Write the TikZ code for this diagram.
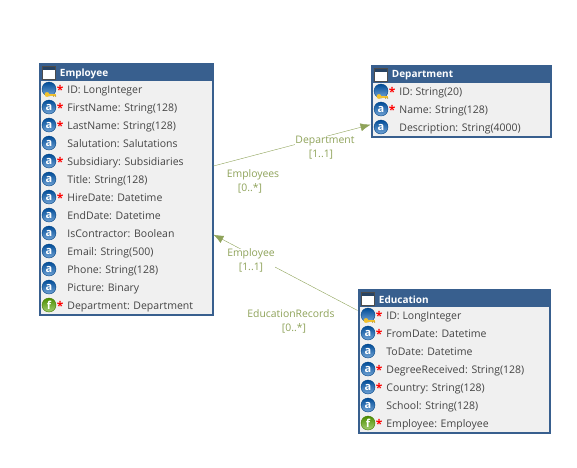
\documentclass[tikz,border=0pt]{standalone}
\usepackage{fontspec}
\setmainfont{Open Sans}
\usepackage{tikz}
\usetikzlibrary{positioning,arrows.meta}
\definecolor{tablecolor}{HTML}{385F8E}
\definecolor{rowcolor}{HTML}{F0F0F0}
\definecolor{textcolor}{HTML}{444444}
\definecolor{linkcolor}{HTML}{8FA35A}
\definecolor{keycolor}{HTML}{F2C230}
\tikzset{
    tablebox/.style={draw=tablecolor, line width=2pt, fill=rowcolor, inner sep=0pt},
    tablehead/.style={fill=tablecolor, anchor=north, minimum height=18pt, inner sep=0pt},
    tabletitle/.style={text=white, font=\fontsize{10}{12}\selectfont\bfseries, inner sep=0pt, right=4pt of #1, yshift=-0.5pt},
    winicon/.style={draw=black!70, minimum width=13pt, minimum height=13pt, inner sep=0pt,
        path picture={\fill[white] (path picture bounding box.south west) rectangle (path picture bounding box.north east);
            \fill[tablecolor!70!black] (path picture bounding box.north west) rectangle ([yshift=-3pt]path picture bounding box.north east);}},
    attricon/.style={circle, draw=#1!75!black, top color=#1!85!black, bottom color=#1!55!white, text=white,
        minimum size=14pt, inner sep=0pt, font=\fontsize{11}{12}\selectfont\bfseries},
    attricon/.default=attrblue,
    attr/.style={attricon},
    reqattr/.style={attricon, label={[reqstar]right:*}},
    keyattr/.style={attricon, label={[reqstar]right:*}},
    fkattr/.style={attricon=fkgreen, label={[reqstar]right:*}},
    reqstar/.style={text=red, font=\fontsize{12}{12}\selectfont\bfseries, inner sep=0pt, xshift=0.5pt, yshift=-0.5pt},
    field/.style={text=textcolor, font=\fontsize{10.5}{12}\selectfont, inner sep=0pt, text height=8pt, text depth=2pt, right=11pt of #1, yshift=-1pt},
    linklabel/.style={text=linkcolor, fill=white, align=center, inner sep=0pt, font=\fontsize{10.4}{14}\selectfont},
    keyglyph/.pic={
        \fill[keycolor] (-3.5,0) circle (2.4);
        \fill[keycolor] (-1.5,-1) rectangle (5.5,1);
        \fill[keycolor!70!black] (2.5,1) rectangle (3.5,2.2) (4.5,1) rectangle (5.5,2.2);
    }
}
\colorlet{attrblue}{blue!50!cyan!70!black}
\colorlet{fkgreen}{green!30!olive}
\begin{document}
\begin{tikzpicture}[x=1pt, y=-1pt, >={Latex[length=10pt,width=8pt]}]
    \useasboundingbox (0,0) rectangle (577,467);

    % Employee table
    \node[tablebox, minimum width=173pt, minimum height=251pt] (employee) at (126,189) {};
    \node[tablehead, minimum width=173pt] (employeehead) at (employee.north) {};
    \node[winicon] (employeewin) at (49,73) {};
    \node[tabletitle=employeewin] (employeetitle) {Employee};
    \node[keyattr] (empid) at (49,89) {};
    \pic at (50.5,94.5) {keyglyph};
    \node[field=empid] {ID: LongInteger};
    \node[reqattr] (empfirst) at (49,107) {a};
    \node[field=empfirst] {FirstName: String(128)};
    \node[reqattr] (emplast) at (49,125) {a};
    \node[field=emplast] {LastName: String(128)};
    \node[attr] (empsalut) at (49,143) {a};
    \node[field=empsalut] {Salutation: Salutations};
    \node[reqattr] (empsubs) at (49,161) {a};
    \node[field=empsubs] {Subsidiary: Subsidiaries};
    \node[attr] (emptitle) at (49,179) {a};
    \node[field=emptitle] {Title: String(128)};
    \node[reqattr] (emphire) at (49,197) {a};
    \node[field=emphire] {HireDate: Datetime};
    \node[attr] (empend) at (49,215) {a};
    \node[field=empend] {EndDate: Datetime};
    \node[attr] (empcontr) at (49,233) {a};
    \node[field=empcontr] {IsContractor: Boolean};
    \node[attr] (empemail) at (49,251) {a};
    \node[field=empemail] {Email: String(500)};
    \node[attr] (empphone) at (49,269) {a};
    \node[field=empphone] {Phone: String(128)};
    \node[attr] (emppic) at (49,287) {a};
    \node[field=emppic] {Picture: Binary};
    \node[fkattr] (empdept) at (49,305) {f};
    \node[field=empdept] {Department: Department};

    % Department table
    \node[tablebox, minimum width=179pt, minimum height=71pt] (department) at (461,101) {};
    \node[tablehead, minimum width=179pt] (departmenthead) at (department.north) {};
    \node[winicon] (departmentwin) at (381,75) {};
    \node[tabletitle=departmentwin] (departmenttitle) {Department};
    \node[keyattr] (depid) at (381,91) {};
    \pic at (382.5,96.5) {keyglyph};
    \node[field=depid] {ID: String(20)};
    \node[reqattr] (depname) at (381,109) {a};
    \node[field=depname] {Name: String(128)};
    \node[attr] (depdesc) at (381,127) {a};
    \node[field=depdesc] {Description: String(4000)};

    % Education table
    \node[tablebox, minimum width=191pt, minimum height=143pt] (education) at (454,361) {};
    \node[tablehead, minimum width=191pt] (educationhead) at (education.north) {};
    \node[winicon] (educationwin) at (368,299) {};
    \node[tabletitle=educationwin] (educationtitle) {Education};
    \node[keyattr] (eduid) at (368,315) {};
    \pic at (369.5,320.5) {keyglyph};
    \node[field=eduid] {ID: LongInteger};
    \node[reqattr] (edufrom) at (368,333) {a};
    \node[field=edufrom] {FromDate: Datetime};
    \node[attr] (eduto) at (368,351) {a};
    \node[field=eduto] {ToDate: Datetime};
    \node[reqattr] (edudegree) at (368,369) {a};
    \node[field=edudegree] {DegreeReceived: String(128)};
    \node[reqattr] (educountry) at (368,387) {a};
    \node[field=educountry] {Country: String(128)};
    \node[attr] (eduschool) at (368,405) {a};
    \node[field=eduschool] {School: String(128)};
    \node[fkattr] (eduemp) at (368,423) {f};
    \node[field=eduemp] {Employee: Employee};

    % Associations
    \draw[->, linkcolor] (employee) -- (department);
    \draw[->, linkcolor] (education) -- (employee);

    % Labels
    \node[linklabel] (deprole) at (325,147.5) {Department\\{[1..1]}\hspace*{8pt}};
    \node[linklabel] (emprole) at (253,181) {Employees\\{[0..*]}\hspace*{6pt}};
    \node[linklabel] (edurole) at (251,260.5) {Employee\\{[1..1]}};
    \node[linklabel] (recrole) at (291,321) {EducationRecords\\\hspace*{6pt}{[0..*]}};
\end{tikzpicture}
\end{document}
